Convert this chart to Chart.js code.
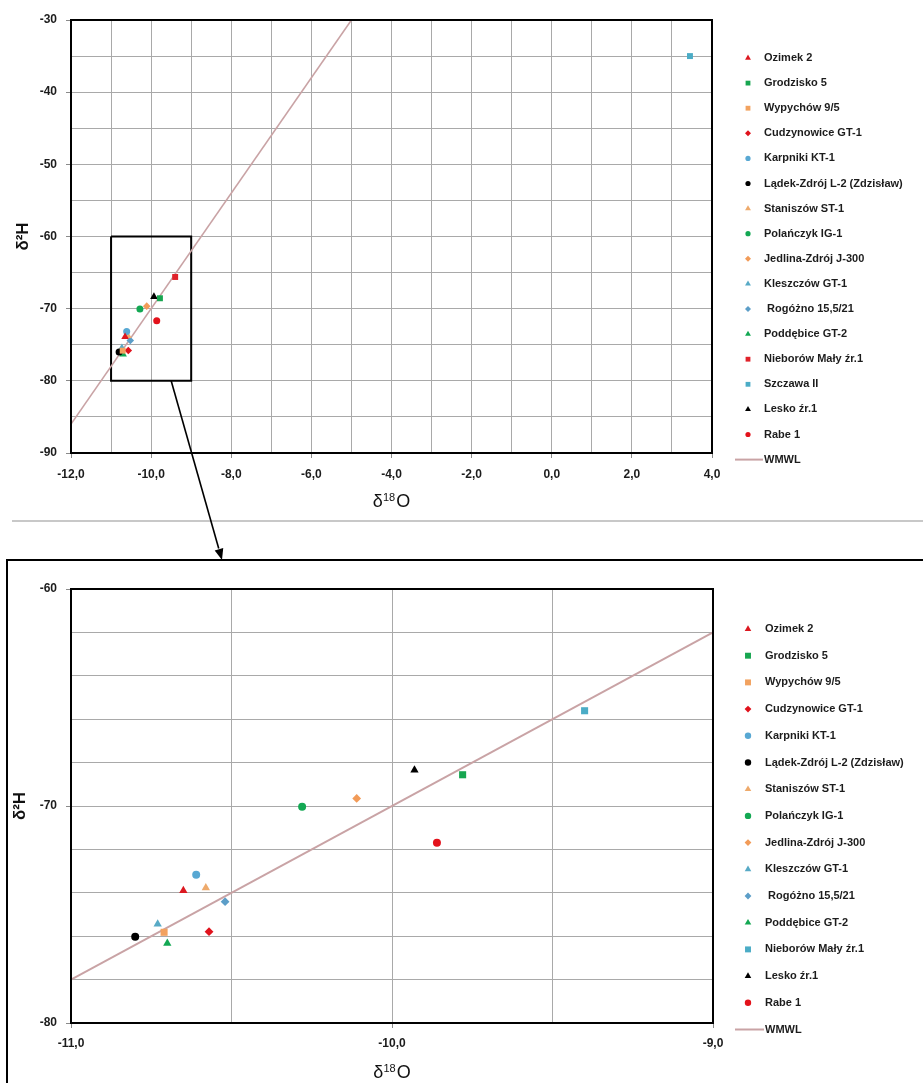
<!DOCTYPE html>
<html>
<head>
<meta charset="utf-8">
<script src="https://cdn.jsdelivr.net/npm/chart.js@4/dist/chart.umd.min.js"></script>
<style>
  html, body { margin: 0; padding: 0; background: #fff; }
  body { width: 923px; height: 1083px; position: relative; overflow: hidden; }
  .abs { position: absolute; }
  #sep { left: 12px; top: 520px; width: 911px; height: 2px; background: #c8c8c8; }
  #box { left: 6px; top: 559px; width: 960px; height: 600px; border-top: 2px solid #000; border-left: 2px solid #000; }
  #arrow { left: 0; top: 0; pointer-events: none; }
</style>
</head>
<body>
<canvas id="topChart" class="abs" width="923" height="515" style="left:0;top:0"></canvas>
<div id="sep" class="abs"></div>
<div id="box" class="abs"></div>
<canvas id="zoomChart" class="abs" width="923" height="558" style="left:0;top:525px"></canvas>
<canvas id="arrow" class="abs" width="923" height="1083"></canvas>
<script>
// sampling sites, in legend order
const siteNames = [
  'Ozimek 2', 'Grodzisko 5', 'Wypychów 9/5', 'Cudzynowice GT-1', 'Karpniki KT-1',
  'Lądek-Zdrój L-2 (Zdzisław)', 'Staniszów ST-1', 'Polańczyk IG-1', 'Jedlina-Zdrój J-300',
  'Kleszczów GT-1', ' Rogóżno 15,5/21', 'Poddębice GT-2', 'Nieborów Mały źr.1',
  'Szczawa II', 'Lesko źr.1', 'Rabe 1'
];
const d18O = [-10.65, -9.78, -10.71, -10.57, -10.61, -10.80, -10.58, -10.28, -10.11,
  -10.73, -10.52, -10.70, -9.40, 3.45, -9.93, -9.86];
const d2H = [-73.9, -68.56, -75.82, -75.79, -73.17, -76.02, -73.77, -70.03, -69.65,
  -75.44, -74.41, -76.33, -65.61, -35.0, -68.34, -71.69];
const siteShapes = ['triangle', 'rect', 'rect', 'rectRot', 'circle', 'circle', 'triangle', 'circle',
  'rectRot', 'triangle', 'rectRot', 'triangle', 'rect', 'rect', 'triangle', 'circle'];
const siteColors = ['#dc1820', '#17a650', '#f2a25f', '#e0121c', '#58a8d3', '#000000', '#eeaa6c', '#13a853',
  '#f29b58', '#58aac6', '#5c9ec8', '#13a853', '#e0222a', '#4bacc6', '#000000', '#e3121b'];
// in the zoomed chart Nieborów is drawn in the Szczawa colour
const zoomColors = siteColors.map((c, i) => (i === 12 ? '#4bacc6' : c));

// world meteoric water line, end points
const wmwlO = [-12, -5];
const wmwlH = [-86, -30];

// zoom window marked on the overview
const zoomX = [-11, -9];
const zoomY = [-80, -60];
const arrowFrom = [-9.5, -80];
const arrowTo = [222, 560];

const FONT = '"Liberation Sans", Arial, sans-serif';

const fmtComma = v => v.toFixed(1).replace('.', ',');

const plotFrame = {
  id: 'plotFrame',
  afterDatasetsDraw(chart) {
    const { ctx, chartArea: a } = chart;
    ctx.save();
    ctx.strokeStyle = '#000';
    ctx.lineWidth = 2;
    ctx.strokeRect(a.left, a.top, a.right - a.left, a.bottom - a.top);
    ctx.restore();
  },
};

// x axis title with a real superscript (δ18O)
const supTitle = {
  id: 'supTitle',
  afterDraw(chart, args, opts) {
    const ctx = chart.ctx;
    const a = chart.chartArea;
    const big = '18px ' + FONT;
    const small = '11px ' + FONT;
    ctx.save();
    ctx.fillStyle = '#111';
    ctx.textBaseline = 'alphabetic';
    ctx.font = big;
    const w1 = ctx.measureText('δ').width;
    const w3 = ctx.measureText('O').width;
    ctx.font = small;
    const w2 = ctx.measureText('18').width + 1;
    let x = (a.left + a.right) / 2 - (w1 + w2 + w3) / 2;
    const base = opts.y + 6;
    ctx.font = big;
    ctx.fillText('δ', x, base);
    x += w1;
    ctx.font = small;
    ctx.fillText('18', x, base - 6);
    x += w2;
    ctx.font = big;
    ctx.fillText('O', x, base);
    ctx.restore();
  },
};

function legendMarker(ctx, ds, x, y) {
  const opts = { pointStyle: ds.pointStyle, radius: ds.legendRadius || 3, rotation: 0, borderWidth: 0 };
  ctx.fillStyle = ds.backgroundColor;
  if (Chart.helpers && Chart.helpers.drawPoint) {
    Chart.helpers.drawPoint(ctx, opts, x, y);
  } else {
    ctx.beginPath();
    ctx.arc(x, y, opts.radius, 0, Math.PI * 2);
    ctx.fill();
  }
}

const sideLegend = {
  id: 'sideLegend',
  afterDraw(chart, args, opts) {
    const ctx = chart.ctx;
    ctx.save();
    ctx.font = 'bold 11px ' + FONT;
    ctx.textBaseline = 'middle';
    let y = opts.y0;
    chart.data.datasets.forEach(ds => {
      if (ds.hideInLegend) return;
      if (ds.showLine) {
        ctx.strokeStyle = ds.borderColor;
        ctx.lineWidth = 2;
        ctx.beginPath();
        ctx.moveTo(opts.x - 13, y);
        ctx.lineTo(opts.textX - 1, y);
        ctx.stroke();
      } else {
        legendMarker(ctx, ds, opts.x, y);
      }
      ctx.fillStyle = '#1c1c1c';
      ctx.fillText(ds.label, opts.textX, y);
      y += opts.step;
    });
    ctx.restore();
  },
};

function siteDatasets(indices, colors, sizes) {
  return indices.map(i => ({
    label: siteNames[i],
    data: [{ x: d18O[i], y: d2H[i] }],
    pointStyle: siteShapes[i],
    backgroundColor: colors[i],
    borderColor: colors[i],
    borderWidth: 0,
    pointRadius: sizes[siteShapes[i]],
    legendRadius: sizes.legend[siteShapes[i]],
  }));
}

function wmwlDataset(width) {
  return {
    label: 'WMWL',
    data: wmwlO.map((o, i) => ({ x: o, y: wmwlH[i] })),
    showLine: true,
    borderColor: '#c9a3a5',
    borderWidth: width,
    pointRadius: 0,
  };
}

function axis(min, max, step, isMajor, fmt, title, titlePad, size, tickPad) {
  return {
    min, max,
    border: { display: false },
    grid: {
      color: '#a9a9a9',
      lineWidth: 1,
      tickLength: 5,
      tickColor: c => (c.tick && isMajor(c.tick.value) ? '#8a8a8a' : 'rgba(0,0,0,0)'),
    },
    ticks: {
      stepSize: step,
      autoSkip: false,
      maxRotation: 0,
      padding: tickPad,
      color: '#1c1c1c',
      font: { family: FONT, size: 12, weight: 'bold' },
      callback: v => (isMajor(v) ? fmt(v) : ''),
    },
    title: {
      display: !!title,
      text: title ? title.text : '',
      color: '#111',
      font: title ? title.font : undefined,
      padding: titlePad,
    },
    afterFit: s => {
      if (s.isHorizontal()) s.height = size; else s.width = size;
    },
  };
}

const near = (v, m) => Math.abs(v / m - Math.round(v / m)) < 1e-6;
const yTitle = { text: 'δ²H', font: { family: FONT, size: 17, weight: 'bold' } };

// ---- overview chart
const allSites = siteNames.map((n, i) => i);
const topSizes = {
  circle: 3.5, rect: 4.2, rectRot: 3.8, triangle: 4.4,
  legend: { circle: 2.6, rect: 3.4, rectRot: 3, triangle: 3.4 },
};
const boxPts = [[0, 1], [1, 1], [1, 0], [0, 0], [0, 1]].map(([a, b]) => ({ x: zoomX[a], y: zoomY[b] }));

const topChart = new Chart(document.getElementById('topChart'), {
  type: 'scatter',
  data: {
    datasets: [
      ...siteDatasets(allSites, siteColors, topSizes),
      wmwlDataset(1.6),
      {
        label: 'zoom',
        hideInLegend: true,
        data: boxPts,
        showLine: true,
        borderColor: '#000',
        borderWidth: 2,
        pointRadius: 0,
        clip: false,
      },
    ],
  },
  options: {
    responsive: false,
    animation: false,
    events: [],
    layout: { padding: { top: 20, right: 211, bottom: 0, left: 0 } },
    scales: {
      x: axis(-12, 4, 1, v => near(v, 2), fmtComma, null, 0, 62, 9),
      y: axis(-90, -30, 5, v => near(v, 10), v => String(v), yTitle, { top: 13, bottom: 0 }, 71, 9),
    },
    plugins: {
      legend: { display: false },
      tooltip: { enabled: false },
      sideLegend: { x: 748, textX: 764, y0: 58, step: 25.1 },
      supTitle: { y: 501 },
    },
  },
  plugins: [plotFrame, sideLegend, supTitle],
});

// ---- zoomed chart: sites that fall inside the zoom window
const zoomSites = allSites.filter(i => d18O[i] >= zoomX[0] && d18O[i] <= zoomX[1]);
const zoomSizes = {
  circle: 4, rect: 5, rectRot: 4.4, triangle: 4.8,
  legend: { circle: 3.2, rect: 4.2, rectRot: 3.4, triangle: 3.8 },
};

const zoomChart = new Chart(document.getElementById('zoomChart'), {
  type: 'scatter',
  data: {
    datasets: [...siteDatasets(zoomSites, zoomColors, zoomSizes), wmwlDataset(2)],
  },
  options: {
    responsive: false,
    animation: false,
    events: [],
    layout: { padding: { top: 64, right: 210, bottom: 0, left: 0 } },
    scales: {
      x: axis(zoomX[0], zoomX[1], 0.5, v => near(v, 1), fmtComma, null, 0, 60, 8),
      y: axis(zoomY[0], zoomY[1], 2, v => near(v, 10), v => String(v), yTitle, { top: 10, bottom: 0 }, 71, 9),
    },
    plugins: {
      legend: { display: false },
      tooltip: { enabled: false },
      sideLegend: { x: 748, textX: 765, y0: 104, step: 26.7 },
      supTitle: { y: 547 },
    },
  },
  plugins: [plotFrame, sideLegend, supTitle],
});

// ---- arrow from the zoom window down to the zoomed chart
const actx = document.getElementById('arrow').getContext('2d');
const sx = topChart.scales.x.getPixelForValue(arrowFrom[0]);
const sy = topChart.scales.y.getPixelForValue(arrowFrom[1]);
const [ex, ey] = arrowTo;
const ang = Math.atan2(ey - sy, ex - sx);
const headLen = 12;
actx.strokeStyle = '#000';
actx.fillStyle = '#000';
actx.lineWidth = 1.6;
actx.beginPath();
actx.moveTo(sx, sy);
actx.lineTo(ex - Math.cos(ang) * headLen, ey - Math.sin(ang) * headLen);
actx.stroke();
actx.beginPath();
actx.moveTo(ex, ey);
actx.lineTo(ex - Math.cos(ang - 0.38) * headLen, ey - Math.sin(ang - 0.38) * headLen);
actx.lineTo(ex - Math.cos(ang + 0.38) * headLen, ey - Math.sin(ang + 0.38) * headLen);
actx.closePath();
actx.fill();
</script>
</body>
</html>
